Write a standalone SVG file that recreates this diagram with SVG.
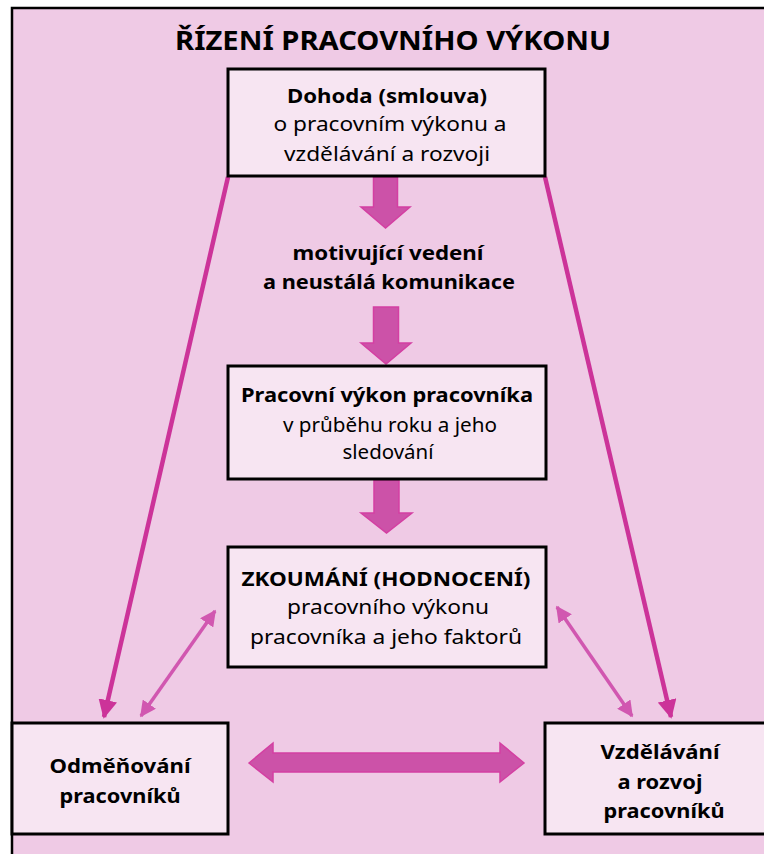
<svg xmlns="http://www.w3.org/2000/svg" width="764" height="854" viewBox="0 0 764 854">
<defs>
<style>
.frame{fill:#EFCAE5;stroke:#000;stroke-width:2.5}
.box{fill:#F7E5F2;stroke:#000;stroke-width:3}
.t{font-family:"Noto Sans","Open Sans","Liberation Sans",sans-serif;fill:#000;text-anchor:middle}
.b{font-weight:bold}
.title{font-size:26px;font-weight:bold}
.n{font-size:19px}
.blk{fill:#CC52A8;stroke:#D43FA2;stroke-width:1.5}
.line{stroke:#CC3399;stroke-width:4.5;fill:none}
.thin{stroke:#D157B0;stroke-width:3.5;fill:none}
</style>
<marker id="ah" viewBox="0 0 10 10" refX="9" refY="5" markerWidth="4.2" markerHeight="4.2" orient="auto" markerUnits="strokeWidth">
<path d="M0,0 L10,5 L0,10 Z" fill="#CC3399"/>
</marker>
<marker id="ah2" viewBox="0 0 10 10" refX="9" refY="5" markerWidth="4.6" markerHeight="4.6" orient="auto-start-reverse" markerUnits="strokeWidth">
<path d="M0,0 L10,5 L0,10 Z" fill="#D157B0"/>
</marker>
</defs>
<rect class="frame" x="12" y="8" width="770" height="860"/>
<text class="t title" x="393" y="50" textLength="436" lengthAdjust="spacingAndGlyphs">ŘÍZENÍ PRACOVNÍHO VÝKONU</text>

<g id="connectors">
<line class="line" x1="228" y1="177" x2="104" y2="717" marker-end="url(#ah)"/>
<line class="line" x1="545" y1="177" x2="671" y2="717" marker-end="url(#ah)"/>
<line class="thin" x1="215" y1="611" x2="141" y2="716" marker-start="url(#ah2)" marker-end="url(#ah2)"/>
<line class="thin" x1="557" y1="607" x2="632" y2="716" marker-start="url(#ah2)" marker-end="url(#ah2)"/>
<path class="blk" d="M373.5,177 H397.5 V207 H410 L385.5,228 L361,207 H373.5 Z"/>
<path class="blk" d="M373.5,307 H398.5 V343 H411 L386,364 L361,343 H373.5 Z"/>
<path class="blk" d="M374,480 H399 V513 H412 L386.5,533 L361,513 H374 Z"/>
<path class="blk" d="M249,763 L273,743 V753 H500 V743 L524,763 L500,782 V772 H273 V782 Z"/>
</g>

<g id="n1">
<rect class="box" x="228" y="69" width="317" height="107"/>
<text class="t b n" x="387" y="103" textLength="200" lengthAdjust="spacingAndGlyphs">Dohoda (smlouva)</text>
<text class="t n" x="390" y="131" textLength="233" lengthAdjust="spacingAndGlyphs">o pracovním výkonu a</text>
<text class="t n" x="387" y="161" textLength="206" lengthAdjust="spacingAndGlyphs">vzdělávání a rozvoji</text>
</g>
<g id="n2">
<text class="t b n" x="388" y="260" textLength="191" lengthAdjust="spacingAndGlyphs">motivující vedení</text>
<text class="t b n" x="389" y="289" textLength="252" lengthAdjust="spacingAndGlyphs">a neustálá komunikace</text>
</g>
<g id="n3">
<rect class="box" x="228" y="366" width="318" height="113"/>
<text class="t b n" x="387" y="402" textLength="292" lengthAdjust="spacingAndGlyphs">Pracovní výkon pracovníka</text>
<text class="t n" x="390" y="432" textLength="214" lengthAdjust="spacingAndGlyphs">v průběhu roku a jeho</text>
<text class="t n" x="388" y="459" textLength="91" lengthAdjust="spacingAndGlyphs">sledování</text>
</g>
<g id="n4">
<rect class="box" x="228" y="547" width="318" height="120"/>
<text class="t b n" x="386" y="586" textLength="289" lengthAdjust="spacingAndGlyphs">ZKOUMÁNÍ (HODNOCENÍ)</text>
<text class="t n" x="388" y="614" textLength="202" lengthAdjust="spacingAndGlyphs">pracovního výkonu</text>
<text class="t n" x="386" y="644" textLength="272" lengthAdjust="spacingAndGlyphs">pracovníka a jeho faktorů</text>
</g>
<g id="n5">
<rect class="box" x="12" y="723" width="216" height="111"/>
<text class="t b n" x="120" y="773" textLength="141" lengthAdjust="spacingAndGlyphs">Odměňování</text>
<text class="t b n" x="120" y="803" textLength="121" lengthAdjust="spacingAndGlyphs">pracovníků</text>
</g>
<g id="n6">
<rect class="box" x="545" y="723" width="240" height="111"/>
<text class="t b n" x="660" y="759" textLength="119" lengthAdjust="spacingAndGlyphs">Vzdělávání</text>
<text class="t b n" x="660" y="789" textLength="85" lengthAdjust="spacingAndGlyphs">a rozvoj</text>
<text class="t b n" x="664" y="818" textLength="121" lengthAdjust="spacingAndGlyphs">pracovníků</text>
</g>
</svg>
